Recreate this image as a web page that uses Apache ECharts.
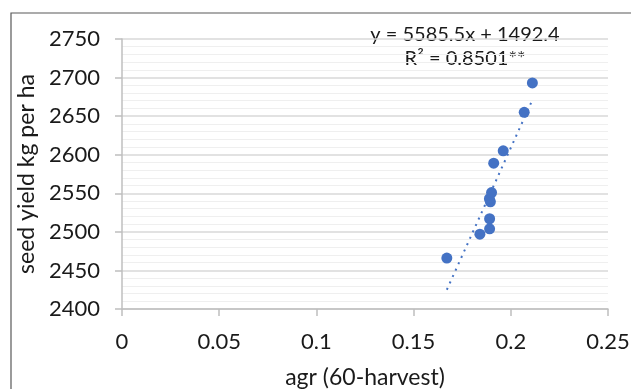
<!DOCTYPE html>
<html>
<head>
<meta charset="utf-8">
<script src="https://cdn.jsdelivr.net/npm/echarts@6/dist/echarts.min.js"></script>
<style>
  html, body { margin: 0; padding: 0; background: #fff; }
  #chart { width: 631px; height: 389px; }
</style>
</head>
<body>
<div id="chart"></div>
<script>
// agr (60-harvest) vs seed yield
const agrValues = [0.1671, 0.1841, 0.1891, 0.1891, 0.1895, 0.1890, 0.1901, 0.1912, 0.1961, 0.2069, 0.2111];
const yieldValues = [2466, 2497, 2504, 2517, 2539, 2543, 2551, 2589, 2605, 2655, 2693];
// linear trend end points
const trendX = [0.1671, 0.2111];
const trendY = [2425, 2671];
const equationLines = ["y = 5585.5x + 1492.4", "R² = 0.8501**"];

const font = "Lato, 'Open Sans', sans-serif";
const textColor = "#1a1a1a";

const points = agrValues.map((x, i) => [x, yieldValues[i]]);
const trend = trendX.map((x, i) => [x, trendY[i]]);

const option = {
  animation: false,
  backgroundColor: "#fff",
  grid: { left: 122, right: 23, top: 39, bottom: 80, containLabel: false, outerBoundsMode: "none" },
  graphic: [
    {
      type: "polyline",
      shape: { points: [[11, 400], [11, 13], [640, 13]] },
      style: { stroke: "#595959", lineWidth: 1.2, fill: null },
    },
    {
      type: "text",
      x: 465, y: 47,
      style: {
        text: equationLines.join("\n"),
        font: "20px " + font,
        fill: textColor,
        textAlign: "center",
        textVerticalAlign: "middle",
        lineHeight: 24,
      },
    },
  ],
  xAxis: {
    type: "value",
    min: 0,
    max: 0.25,
    interval: 0.05,
    name: "agr (60-harvest)",
    nameLocation: "middle",
    nameGap: 57,
    nameTextStyle: { fontFamily: font, fontSize: 23, color: textColor },
    axisLine: { show: true, lineStyle: { color: "#bfbfbf", width: 1.5 } },
    axisTick: { show: true, length: 7, lineStyle: { color: "#bfbfbf", width: 1.5 } },
    axisLabel: { fontFamily: font, fontSize: 22, color: textColor, margin: 22 },
    splitLine: { show: false },
  },
  yAxis: {
    type: "value",
    min: 2400,
    max: 2750,
    interval: 50,
    name: "seed yield kg per ha",
    nameLocation: "middle",
    nameGap: 80,
    nameTextStyle: { fontFamily: font, fontSize: 23, color: textColor },
    axisLine: { show: true, lineStyle: { color: "#bfbfbf", width: 1.5 } },
    axisTick: { show: true, inside: false, length: 7, lineStyle: { color: "#bfbfbf", width: 1.5 } },
    axisLabel: { fontFamily: font, fontSize: 22, color: textColor, margin: 22, formatter: (v) => String(v) },
    splitLine: { show: true, lineStyle: { color: "#d9d9d9", width: 1.5 } },
    minorTick: { show: false, splitNumber: 5 },
    minorSplitLine: { show: true, lineStyle: { color: "#efefef", width: 1 } },
  },
  series: [
    {
      name: "trend",
      type: "line",
      data: trend,
      symbol: "none",
      lineStyle: { color: "#4472c4", width: 2, type: [2, 5] },
      z: 1,
    },
    {
      name: "yield",
      type: "scatter",
      data: points,
      symbolSize: 11,
      itemStyle: { color: "#4472c4", opacity: 1 },
      z: 2,
    },
  ],
};

const myChart = echarts.init(document.getElementById("chart"));
myChart.setOption(option);
</script>
</body>
</html>
